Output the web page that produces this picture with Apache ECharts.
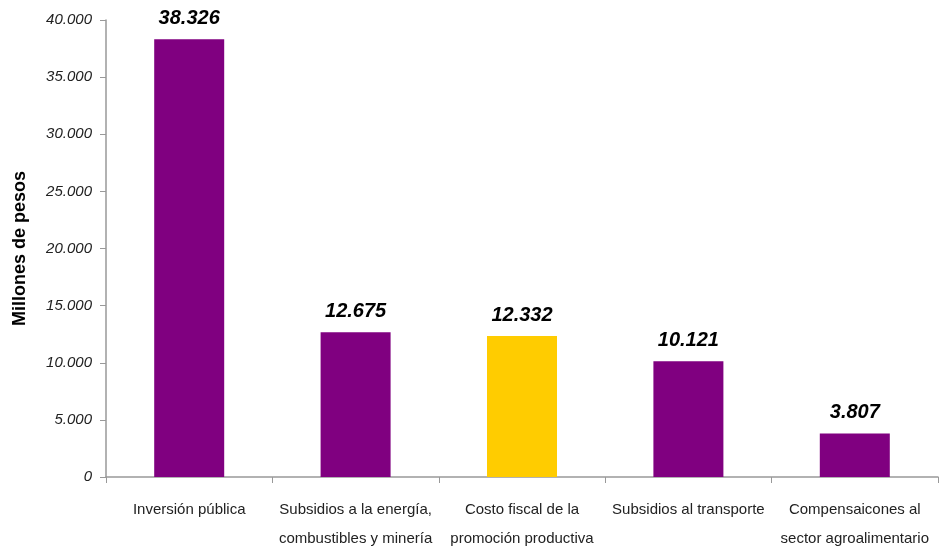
<!DOCTYPE html>
<html>
<head>
<meta charset="utf-8">
<script src="https://cdn.jsdelivr.net/npm/echarts@6/dist/echarts.min.js"></script>
<style>
  html, body { margin: 0; padding: 0; background: #fff; }
  #chart { width: 946px; height: 547px; }
</style>
</head>
<body>
<div id="chart"></div>
<script>
// categorias y valores
var categorias = [
  'Inversión pública',
  'Subsidios a la energía,\ncombustibles y minería',
  'Costo fiscal de la\npromoción productiva',
  'Subsidios al transporte',
  'Compensaicones al\nsector agroalimentario'
];
var valores = [38326, 12675, 12332, 10121, 3807];
var colores = ['#800080', '#800080', '#FFCC00', '#800080', '#800080'];
var ticksY = [0, 5000, 10000, 15000, 20000, 25000, 30000, 35000, 40000];

// formato con punto de miles
function miles(v) {
  return String(v).replace(/\B(?=(\d{3})+(?!\d))/g, '.');
}

var chart = echarts.init(document.getElementById('chart'));
chart.setOption({
  animation: false,
  grid: { left: 106, right: 8, top: 20, bottom: 70, outerBoundsMode: 'none' },
  xAxis: {
    type: 'category',
    data: categorias,
    axisLine: { lineStyle: { color: '#999', width: 1.5 } },
    axisTick: { show: true, length: 6, lineStyle: { color: '#999' } },
    axisLabel: {
      interval: 0,
      margin: 18,
      fontFamily: 'Liberation Sans Narrow, Liberation Sans, Arial',
      fontSize: 15,
      lineHeight: 29,
      color: '#222'
    }
  },
  yAxis: {
    type: 'value',
    min: ticksY[0],
    max: ticksY[ticksY.length - 1],
    interval: 5000,
    name: 'Millones de pesos',
    nameLocation: 'middle',
    nameGap: 77,
    nameTextStyle: {
      fontFamily: 'Liberation Sans, Arial',
      fontWeight: 'bold',
      fontSize: 18,
      color: '#000'
    },
    splitLine: { show: false },
    axisLine: { show: true, lineStyle: { color: '#999', width: 1.5 } },
    axisTick: { show: true, length: 6, lineStyle: { color: '#999' } },
    axisLabel: {
      margin: 14,
      fontFamily: 'Liberation Sans Narrow, Liberation Sans, Arial',
      fontStyle: 'italic',
      fontSize: 15,
      color: '#222',
      formatter: function (v) { return miles(v); }
    }
  },
  series: [{
    type: 'bar',
    barWidth: 70,
    data: valores.map(function (v, i) {
      return { value: v, itemStyle: { color: colores[i] } };
    }),
    label: {
      show: true,
      position: 'top',
      distance: 11,
      fontFamily: 'Liberation Sans, Arial',
      fontStyle: 'italic',
      fontWeight: 'bold',
      fontSize: 20,
      color: '#000',
      formatter: function (p) { return miles(p.value); }
    }
  }]
});
</script>
</body>
</html>
